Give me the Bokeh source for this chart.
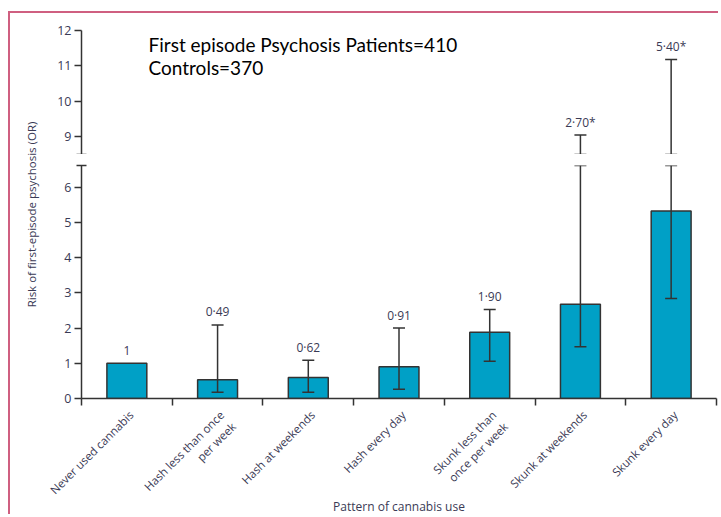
import numpy as np
from math import pi
from bokeh.plotting import figure
from bokeh.models import Range1d, FixedTicker, ColumnDataSource, Whisker, TeeHead, Label
from bokeh.layouts import row, column
from bokeh.embed import file_html
from bokeh.resources import INLINE
from bokeh.core.properties import value

# ---------------- data ----------------
categories = ["Never used cannabis", "Hash less than once\nper week", "Hash at weekends",
              "Hash every day", "Skunk less than\nonce per week", "Skunk at weekends",
              "Skunk every day"]
odds_ratio = [1.0, 0.53, 0.60, 0.90, 1.88, 2.68, 5.33]
ci_low = [np.nan, 0.18, 0.18, 0.26, 1.06, 1.47, 2.84]
ci_high = [np.nan, 2.09, 1.09, 2.00, 2.53, 9.05, 11.18]
or_labels = ["1", "0·49", "0·62", "0·91", "1·90", "2·70*", "5·40*"]
lower_ticks = [0, 1, 2, 3, 4, 5, 6]
upper_ticks = [9, 10, 11, 12]
break_low = 6.62   # top of lower panel
break_high = 8.5   # bottom of upper panel
y_top = 12
note_lines = ["First episode Psychosis Patients=410", "Controls=370"]
x_title = "Pattern of cannabis use"
y_title = "Risk of first-episode psychosis (OR)"

# ---------------- styles / layout sizes ----------------
BAR = "#00a0c6"
DARK = "#333333"
TXT = "#3a3a55"
FONT = "Open Sans"
PINK = "#cf5f80"
TITLE_W = 41       # width of the y-title column
LEFT = 30          # left border of the plotting panels
FRAME_W = 635      # frame width of the plotting panels
RIGHT = 2

n = len(categories)
xpos = np.arange(n) + 0.5
lo = np.array(ci_low, dtype=float)
hi = np.array(ci_high, dtype=float)
vals = np.array(odds_ratio, dtype=float)
has_ci = ~np.isnan(hi)
label_y = np.where(has_ci, hi, vals)

x_range = Range1d(0, n)

def style_common(p):
    p.xgrid.visible = False
    p.ygrid.visible = False
    p.outline_line_color = None
    p.background_fill_color = "white"
    p.border_fill_color = "white"

def style_yaxis(ax, ticks, minor):
    ax.ticker = FixedTicker(ticks=ticks, minor_ticks=minor)
    ax.axis_line_color = DARK
    ax.axis_line_width = 1.5
    ax.major_tick_line_color = DARK
    ax.major_tick_line_width = 1.5
    ax.major_tick_in = 0
    ax.major_tick_out = 7
    ax.minor_tick_line_color = DARK
    ax.minor_tick_line_width = 1.5
    ax.minor_tick_in = 5
    ax.minor_tick_out = 5
    ax.major_label_text_font = FONT
    ax.major_label_text_font_size = "12.5px"
    ax.major_label_text_color = TXT
    ax.major_label_standoff = 3

def whisker(src):
    w = Whisker(source=src, base="x", lower="lo", upper="hi",
                line_color=DARK, line_width=1.5,
                upper_head=TeeHead(size=12, line_color=DARK, line_width=1.5),
                lower_head=TeeHead(size=12, line_color=DARK, line_width=1.5))
    w.level = "annotation"
    return w

PW = LEFT + FRAME_W + RIGHT

# ---------------- upper panel ----------------
up = figure(width=PW, height=141, x_range=x_range, y_range=Range1d(break_high, y_top),
            output_backend="svg", toolbar_location=None,
            min_border_top=17, min_border_bottom=0, min_border_left=LEFT, min_border_right=RIGHT)
style_common(up)
up.xaxis.visible = False
style_yaxis(up.yaxis[0], upper_ticks, [break_high])

m_up = has_ci & (hi > break_high)
src_up = ColumnDataSource(dict(x=xpos[m_up], lo=np.full(m_up.sum(), break_high), hi=hi[m_up]))
up.add_layout(whisker(src_up))

mlab_up = label_y > break_low
up.text(x=xpos[mlab_up], y=label_y[mlab_up], text=np.array(or_labels)[mlab_up],
        text_align="center", text_baseline="middle", y_offset=-13,
        text_font=value(FONT), text_font_size="12px", text_color=TXT)

up.add_layout(Label(x=0.739, y=11.61, text=note_lines[0], text_font="Lato",
                    text_font_size="19px", text_color="black", text_baseline="alphabetic"))
up.add_layout(Label(x=0.739, y=10.96, text=note_lines[1], text_font="Lato",
                    text_font_size="19px", text_color="black", text_baseline="alphabetic"))

# ---------------- lower panel ----------------
lo_p = figure(width=PW, height=253, x_range=x_range, y_range=Range1d(0, break_low),
              output_backend="svg", toolbar_location=None,
              min_border_top=11, min_border_bottom=9, min_border_left=LEFT, min_border_right=RIGHT)
style_common(lo_p)
style_yaxis(lo_p.yaxis[0], lower_ticks, [break_low])

xa = lo_p.xaxis[0]
xa.ticker = FixedTicker(ticks=[], minor_ticks=list(range(n + 1)))
xa.axis_line_color = DARK
xa.axis_line_width = 1.5
xa.major_tick_in = 0
xa.major_tick_out = 0
xa.minor_tick_in = 0
xa.minor_tick_out = 7
xa.minor_tick_line_color = DARK
xa.minor_tick_line_width = 1.5
xa.major_label_standoff = 0

lo_p.vbar(x=xpos, top=vals, bottom=0, width=0.44, fill_color=BAR,
          line_color=DARK, line_width=1.5)

src_lo = ColumnDataSource(dict(x=xpos[has_ci], lo=lo[has_ci],
                               hi=np.minimum(hi[has_ci], break_low)))
lo_p.add_layout(whisker(src_lo))

mlab_lo = ~mlab_up
lo_p.text(x=xpos[mlab_lo], y=label_y[mlab_lo], text=np.array(or_labels)[mlab_lo],
          text_align="center", text_baseline="middle", y_offset=-13,
          text_font=value(FONT), text_font_size="12px", text_color=TXT)

# ---------------- y-axis title panel ----------------
lab = figure(width=TITLE_W, height=141 + 253, x_range=(0, 1), y_range=(0, 1),
             output_backend="svg", toolbar_location=None,
             min_border_top=17, min_border_bottom=9, min_border_left=30, min_border_right=0)
style_common(lab)
lab.xaxis.visible = False
ya = lab.yaxis[0]
ya.ticker = FixedTicker(ticks=[])
ya.axis_line_color = None
ya.major_tick_line_color = None
ya.minor_tick_line_color = None
ya.axis_label = y_title
ya.axis_label_text_font = FONT
ya.axis_label_text_font_size = "11.5px"
ya.axis_label_text_font_style = "normal"
ya.axis_label_text_color = TXT
ya.axis_label_standoff = 2

# ---------------- category label strip (full width, same x scale) ----------------
ppu = FRAME_W / n
strip = figure(width=TITLE_W + PW, height=107,
               x_range=Range1d(-(TITLE_W + LEFT) / ppu, n), y_range=Range1d(0, 1),
               output_backend="svg", toolbar_location=None,
               min_border_top=0, min_border_bottom=0, min_border_left=0, min_border_right=RIGHT)
style_common(strip)
strip.xaxis.visible = False
strip.yaxis.visible = False
strip.text(x=xpos, y=np.ones(n), text=categories, angle=pi / 4,
           x_offset=-1, y_offset=0, text_align="right", text_baseline="top",
           text_font=value(FONT), text_font_size="11.5px", text_color=TXT,
           text_line_height=1.1)
strip.text(x=[n / 2], y=[0], text=[x_title], y_offset=0,
           text_align="center", text_baseline="bottom",
           text_font=value(FONT), text_font_size="12px", text_color=TXT)

layout = column(row(lab, column(up, lo_p)), strip,
                styles={"border-left": f"2px solid {PINK}", "border-top": f"2px solid {PINK}",
                        "margin-top": "11px", "margin-left": "8px"})

open("out.html", "w").write(file_html(layout, INLINE))
